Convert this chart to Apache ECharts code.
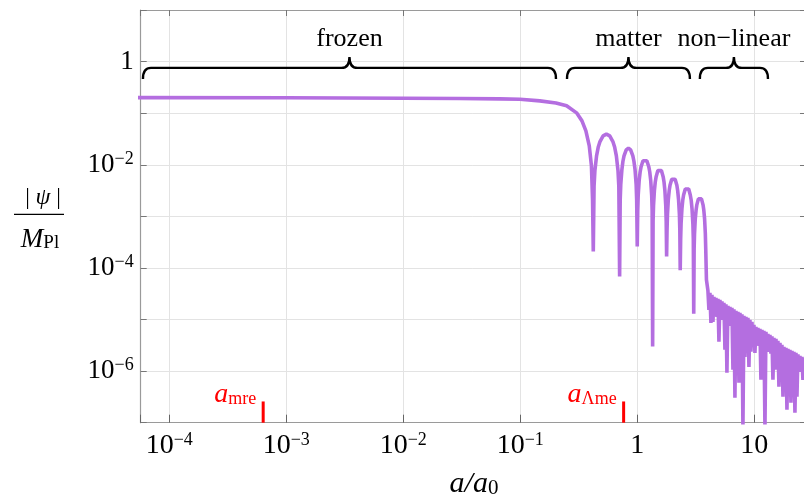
<!DOCTYPE html>
<html><head><meta charset="utf-8">
<script src="https://cdn.jsdelivr.net/npm/echarts@6/dist/echarts.min.js"></script>
<style>html,body{margin:0;padding:0;background:#fff}#c{width:804px;height:503px}</style>
</head><body><div id="c"></div>
<script>
// ---- data (a/a0 , |psi|/M_Pl) ----
const aFrozen = [5.0e-5, 1.0e-3, 1.0e-2, 0.03, 0.067, 0.0994, 0.147, 0.202, 0.249, 0.303, 0.337, 0.364, 0.389, 0.406, 0.415];
const psiFrozen = [0.2005, 0.199, 0.195, 0.192, 0.189, 0.186, 0.173, 0.158, 0.139, 0.1014, 0.0709, 0.0454, 0.0232, 0.00952, 0.00209];

const aMatter = [
  0.421, 0.4275, 0.4345, 0.449, 0.4637, 0.479, 0.511, 0.545, 0.582, 0.621, 0.6417, 0.663, 0.685, 0.696,
  0.707, 0.715, 0.723, 0.739, 0.7546, 0.771, 0.805, 0.841, 0.878, 0.917, 0.937, 0.958, 0.979, 0.989,
  1.0, 1.0095, 1.019, 1.0386, 1.0585, 1.0787, 1.1203, 1.1636, 1.2085, 1.255, 1.2792, 1.304, 1.329, 1.341,
  1.354, 1.366, 1.378, 1.402, 1.426, 1.451, 1.501, 1.554, 1.609, 1.665, 1.694, 1.723, 1.753, 1.768,
  1.783, 1.798, 1.813, 1.844, 1.875, 1.906, 1.972, 2.039, 2.108, 2.181, 2.217, 2.254, 2.293, 2.312,
  2.33, 2.35, 2.37, 2.41, 2.449, 2.49, 2.575, 2.66, 2.753, 2.84, 2.892, 2.94, 2.99, 3.015,
  3.04, 3.064, 3.088, 3.134, 3.183, 3.232, 3.332, 3.435, 3.541, 3.651, 3.708, 3.764, 3.82, 3.851, 3.904
];
const psiMatter = [
  2.08e-4, 3.84e-3, 7.64e-3, 1.49e-2, 2.18e-2, 2.77e-2, 3.62e-2, 3.92e-2, 3.62e-2, 2.77e-2, 2.18e-2, 1.49e-2, 7.64e-3, 3.84e-3,
  6.81e-5, 2.06e-3, 4.10e-3, 8.0e-3, 1.17e-2, 1.48e-2, 1.94e-2, 2.10e-2, 1.94e-2, 1.48e-2, 1.17e-2, 8.0e-3, 4.10e-3, 2.06e-3,
  2.60e-4, 1.27e-3, 2.54e-3, 4.95e-3, 7.23e-3, 9.18e-3, 1.20e-2, 1.30e-2, 1.20e-2, 9.18e-3, 7.23e-3, 4.95e-3, 2.54e-3, 1.27e-3,
  3.0e-6, 8.16e-4, 1.62e-3, 3.17e-3, 4.63e-3, 5.88e-3, 7.70e-3, 8.33e-3, 7.70e-3, 5.88e-3, 4.63e-3, 3.17e-3, 1.62e-3, 8.16e-4,
  1.66e-4, 5.54e-4, 1.10e-3, 2.15e-3, 3.14e-3, 3.99e-3, 5.22e-3, 5.65e-3, 5.22e-3, 3.99e-3, 3.14e-3, 2.15e-3, 1.10e-3, 5.54e-4,
  8.98e-5, 3.61e-4, 7.18e-4, 1.40e-3, 2.05e-3, 2.60e-3, 3.40e-3, 3.68e-3, 3.40e-3, 2.60e-3, 2.05e-3, 1.40e-3, 7.18e-4, 3.61e-4,
  1.29e-5, 2.31e-4, 4.60e-4, 8.99e-4, 1.31e-3, 1.67e-3, 2.18e-3, 2.36e-3, 2.18e-3, 1.67e-3, 1.31e-3, 8.99e-4, 4.60e-4, 2.31e-4, 5.9e-5
];

const aNonlinear = [
  4.021,4.100,4.182,4.265,4.350,4.437,4.525,4.615,4.707,4.800,
  4.896,4.993,5.091,5.193,5.296,5.401,5.508,5.618,5.730,5.843,
  5.960,6.078,6.199,6.321,6.448,6.576,6.707,6.839,6.976,7.115,
  7.256,7.400,7.548,7.698,7.851,8.006,8.165,8.327,8.493,8.662,
  8.834,9.010,9.188,9.372,9.557,9.748,9.942,10.14,10.34,10.55,
  10.75,10.97,11.19,11.41,11.64,11.87,12.10,12.35,12.59,12.84,
  13.09,13.36,13.62,13.89,14.17,14.45,14.74,15.03,15.33,15.63,
  15.94,16.26,16.59,16.92,17.25,17.60,17.94,18.30,18.67,19.04,
  19.41,19.80,20.19,20.60,21.01,21.42,21.85,22.28,22.73,23.18,
  23.64,24.11,24.58,25.07,25.57,26.08,26.60
];
const psiNonlinear = [
  3.60e-5,1.54e-5,3.29e-5,8.63e-6,3.01e-5,9.02e-6,2.75e-5,1.18e-5,2.64e-5,1.13e-5,
  2.52e-5,3.70e-6,2.41e-5,1.08e-5,2.25e-5,9.86e-6,2.11e-5,2.59e-6,1.97e-5,9.27e-7,
  1.85e-5,7.89e-6,1.76e-5,7.55e-6,1.69e-5,1.06e-6,1.58e-5,3.04e-7,1.47e-5,6.61e-6,
  1.41e-5,5.93e-7,1.35e-5,5.78e-6,1.26e-5,8e-8,1.18e-5,1.89e-6,1.13e-5,5.05e-6,
  1.08e-5,1.21e-6,9.86e-6,2.37e-6,9.02e-6,4.04e-6,7.89e-6,2.26e-6,7.22e-6,3.24e-6,
  6.91e-6,3.09e-6,6.61e-6,6.78e-7,6.31e-6,2.83e-6,6.04e-6,8e-8,5.78e-6,2.47e-6,
  5.28e-6,2.37e-6,5.05e-6,2.17e-6,4.72e-6,6.78e-7,4.42e-6,1.06e-6,4.23e-6,1.89e-6,
  3.87e-6,4.96e-7,3.53e-6,1.58e-6,3.24e-6,3.18e-7,2.96e-6,1.39e-6,2.83e-6,1.78e-7,
  2.70e-6,1.27e-6,2.59e-6,2.43e-7,2.47e-6,1.06e-6,2.37e-6,1.56e-7,2.26e-6,3.18e-7,
  2.12e-6,9.69e-7,1.98e-6,1.06e-6,1.89e-6,6.78e-7,1.81e-6
];

// tick labels
const xTickValues = [1e-4, 1e-3, 1e-2, 1e-1, 1, 10];
const xTickLabels = ['10^\u22124', '10^\u22123', '10^\u22122', '10^\u22121', '1', '10'];
const yTickValues = [1e-6, 1e-4, 1e-2, 1];
const yTickLabels = ['10^\u22126', '10^\u22124', '10^\u22122', '1'];

// annotations
const braceLabels = ['frozen', 'matter', 'non\u2212linear'];
const braceFrom = [5.96e-5, 0.251, 3.43];
const braceTo = [0.202, 2.82, 13.1];
const braceLevel = 0.755;

const markerNames = ['mre', '\u039bme'];
const markerA = [6.35e-4, 0.765];
const markerTop = 2.58e-7;

// ---- chart ----
const FONT = '"Liberation Serif", "DejaVu Serif", serif';
const LINE_COLOR = '#b46ee0';
const AXIS_COLOR = '#9a9a9a';
const GRID_COLOR = '#e3e3e3';

const mainData = []
  .concat(aFrozen.map((a, i) => [a, psiFrozen[i]]))
  .concat(aMatter.map((a, i) => [a, psiMatter[i]]))
  .concat(aNonlinear.map((a, i) => [a, psiNonlinear[i]]));

function powLabel(v, values, labels) {
  const i = values.findIndex(t => Math.abs(Math.log10(v / t)) < 1e-6);
  if (i < 0) return '';
  const parts = labels[i].split('^');
  return parts.length > 1 ? '{b|' + parts[0] + '}{s|' + parts[1] + '}' : '{b|' + parts[0] + '}';
}
function tickRich(size) {
  return {
    b: { fontFamily: FONT, fontSize: size, lineHeight: size, verticalAlign: 'bottom', color: '#000' },
    s: { fontFamily: FONT, fontSize: 18, lineHeight: 18, verticalAlign: 'bottom', color: '#000', padding: [0, 0, 10, 0] }
  };
}

const X_MIN = 5.70e-5, X_MAX = 27.7, Y_MIN = 1e-7, Y_MAX = 10;

const chart = echarts.init(document.getElementById('c'), null, { renderer: 'canvas' });
chart.setOption({
  animation: false,
  backgroundColor: '#fff',
  grid: { left: 140.7, top: 10, width: 665.3, height: 412.7, containLabel: false, outerBoundsMode: 'none' },
  xAxis: [
    {
      type: 'log', logBase: 10, min: X_MIN, max: X_MAX, splitNumber: 6, position: 'bottom',
      axisLine: { show: true, lineStyle: { color: AXIS_COLOR, width: 1.2 } },
      axisTick: { show: true, inside: true, length: 8, lineStyle: { color: '#666', width: 1 } },
      axisLabel: { margin: 9, formatter: v => powLabel(v, xTickValues, xTickLabels), rich: tickRich(28) },
      splitLine: { show: true, lineStyle: { color: GRID_COLOR, width: 1 } }
    },
    {
      type: 'log', logBase: 10, min: X_MIN, max: X_MAX, splitNumber: 6, position: 'top',
      axisLine: { show: true, lineStyle: { color: AXIS_COLOR, width: 1.2 } },
      axisTick: { show: true, inside: true, length: 6, lineStyle: { color: '#777', width: 1 } },
      axisLabel: { show: false }, splitLine: { show: false }
    }
  ],
  yAxis: [
    {
      type: 'log', logBase: 10, min: Y_MIN, max: Y_MAX, splitNumber: 8, position: 'left',
      axisLine: { show: true, lineStyle: { color: AXIS_COLOR, width: 1.2 } },
      axisTick: { show: true, inside: true, length: 6, lineStyle: { color: '#777', width: 1 } },
      axisLabel: { margin: 7, formatter: v => powLabel(v, yTickValues, yTickLabels), rich: tickRich(27) },
      splitLine: { show: true, lineStyle: { color: GRID_COLOR, width: 1 } }
    },
    {
      type: 'log', logBase: 10, min: Y_MIN, max: Y_MAX, splitNumber: 8, position: 'right',
      axisLine: { show: true, lineStyle: { color: AXIS_COLOR, width: 1.2 } },
      axisTick: { show: true, inside: true, length: 6, lineStyle: { color: '#777', width: 1 } },
      axisLabel: { show: false }, splitLine: { show: false }
    }
  ],
  series: [
    {
      type: 'line', xAxisIndex: 0, yAxisIndex: 0, data: mainData,
      showSymbol: false, symbol: 'none', clip: true, z: 3,
      lineStyle: { color: LINE_COLOR, width: 3.6, join: 'bevel', cap: 'butt' }
    },
    {
      type: 'custom', xAxisIndex: 0, yAxisIndex: 0, clip: false, z: 4,
      data: braceFrom.map((f, i) => [f, braceTo[i], braceLevel, i]),
      encode: { x: [0, 1], y: 2 },
      renderItem: function (params, api) {
        const p1 = api.coord([api.value(0), api.value(2)]);
        const p2 = api.coord([api.value(1), api.value(2)]);
        const x1 = p1[0], x2 = p2[0], y = p1[1], xm = (x1 + x2) / 2;
        const h = 11, r = 8;
        const d = 'M' + x1 + ',' + (y + h) + ' Q' + x1 + ',' + y + ' ' + (x1 + r) + ',' + y +
          ' L' + (xm - r) + ',' + y + ' Q' + xm + ',' + y + ' ' + xm + ',' + (y - h) +
          ' Q' + xm + ',' + y + ' ' + (xm + r) + ',' + y +
          ' L' + (x2 - r) + ',' + y + ' Q' + x2 + ',' + y + ' ' + x2 + ',' + (y + h);
        return {
          type: 'group',
          children: [
            { type: 'path', shape: { pathData: d }, style: { stroke: '#000', lineWidth: 2.4, fill: 'none' } },
            { type: 'text', x: xm, y: y - 29, style: { text: braceLabels[api.value(3)], fontFamily: FONT, fontSize: 26, fill: '#000', align: 'center', verticalAlign: 'middle' } }
          ]
        };
      }
    },
    {
      type: 'custom', xAxisIndex: 0, yAxisIndex: 0, clip: false, z: 4,
      data: markerA.map((a, i) => [a, Y_MIN, markerTop, i]),
      encode: { x: 0, y: [1, 2] },
      renderItem: function (params, api) {
        const p0 = api.coord([api.value(0), api.value(1)]);
        const p1 = api.coord([api.value(0), api.value(2)]);
        return {
          type: 'group',
          children: [
            { type: 'line', shape: { x1: p0[0], y1: p0[1], x2: p1[0], y2: p1[1] }, style: { stroke: '#ff0000', lineWidth: 3 } },
            {
              type: 'text', x: p1[0] - 7, y: p1[1] + 7,
              style: {
                text: '{i|a}{s|' + markerNames[api.value(3)] + '}',
                align: 'right', verticalAlign: 'bottom',
                rich: {
                  i: { fontFamily: FONT, fontStyle: 'italic', fontSize: 28, lineHeight: 28, verticalAlign: 'bottom', fill: '#ff0000', color: '#ff0000' },
                  s: { fontFamily: FONT, fontSize: 18, lineHeight: 18, verticalAlign: 'bottom', fill: '#ff0000', color: '#ff0000' }
                }
              }
            }
          ]
        };
      }
    }
  ],
  graphic: [
    {
      type: 'text', x: 474, y: 499, z: 10,
      style: {
        text: '{i|a/a}{s|0}', align: 'center', verticalAlign: 'bottom',
        rich: {
          i: { fontFamily: FONT, fontStyle: 'italic', fontSize: 30, lineHeight: 30, verticalAlign: 'bottom', fill: '#000' },
          s: { fontFamily: FONT, fontSize: 21, lineHeight: 21, verticalAlign: 'bottom', fill: '#000' }
        }
      }
    },
    {
      type: 'text', x: 43, y: 210, z: 10,
      style: {
        text: '| {i|\u03c8} |', align: 'center', verticalAlign: 'bottom',
        fontFamily: FONT, fontSize: 23, fill: '#000',
        rich: { i: { fontFamily: FONT, fontStyle: 'italic', fontSize: 24, fill: '#000' } }
      }
    },
    { type: 'line', z: 10, shape: { x1: 14, y1: 214.3, x2: 64, y2: 214.3 }, style: { stroke: '#000', lineWidth: 1.3 } },
    {
      type: 'text', x: 40, y: 253, z: 10,
      style: {
        text: '{i|M}{s|Pl}', align: 'center', verticalAlign: 'bottom',
        rich: {
          i: { fontFamily: FONT, fontStyle: 'italic', fontSize: 27, lineHeight: 27, verticalAlign: 'bottom', fill: '#000' },
          s: { fontFamily: FONT, fontSize: 19, lineHeight: 19, verticalAlign: 'bottom', fill: '#000' }
        }
      }
    }
  ]
});
</script>
</body></html>
